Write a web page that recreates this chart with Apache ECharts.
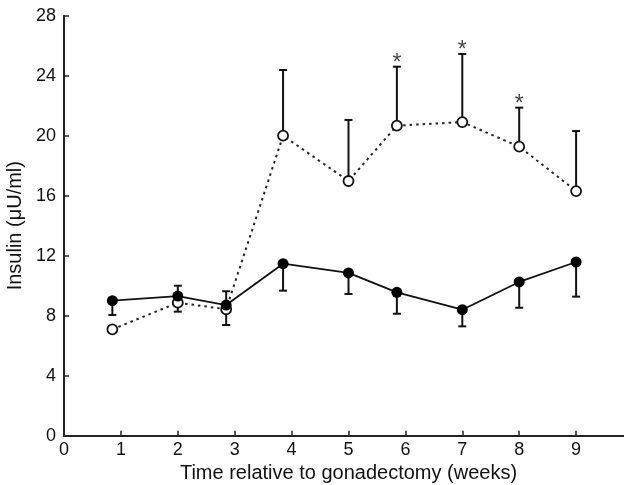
<!DOCTYPE html>
<html><head><meta charset="utf-8">
<script src="https://cdn.jsdelivr.net/npm/echarts@6/dist/echarts.min.js"></script>
<style>html,body{margin:0;padding:0;background:#fff}#c{width:624px;height:485px}</style>
</head><body><div id="c"></div>
<script>
const weeks = [0.85, 2, 2.85, 3.85, 5, 5.85, 7, 8, 9];
const intact = [9.0, 9.31, 8.71, 11.47, 10.85, 9.56, 8.4, 10.25, 11.58];
const intactBarEnd = [8.05, 10.0, 7.38, 9.67, 9.45, 8.13, 7.29, 8.53, 9.27];
const gonadex = [7.09, 8.87, 8.43, 20.0, 16.98, 20.67, 20.91, 19.27, 16.31];
const gonadexBarEnd = [null, 8.27, 9.63, 24.38, 21.05, 24.6, 25.45, 21.87, 20.31];
const starWeeks = [5.85, 7, 8];
const starAt = [24.6, 25.45, 21.87];
const yTicks = [0, 4, 8, 12, 16, 20, 24, 28];
const xTicks = [0, 1, 2, 3, 4, 5, 6, 7, 8, 9];

const FONT = 'Liberation Sans, Arial, sans-serif';
function errData(vals, ends) {
  return weeks.map((w, i) => [w, vals[i], ends[i]]).filter(d => d[2] != null);
}
function errRender(params, api) {
  const p0 = api.coord([api.value(0), api.value(1)]);
  const p1 = api.coord([api.value(0), api.value(2)]);
  const cap = 4;
  return {
    type: 'group',
    children: [
      { type: 'line', shape: { x1: p0[0], y1: p0[1], x2: p1[0], y2: p1[1] }, style: { stroke: '#111', lineWidth: 2 } },
      { type: 'line', shape: { x1: p1[0] - cap, y1: p1[1], x2: p1[0] + cap, y2: p1[1] }, style: { stroke: '#111', lineWidth: 2 } }
    ]
  };
}
const chart = echarts.init(document.getElementById('c'), null, { renderer: 'canvas' });
chart.setOption({
  animation: false,
  backgroundColor: '#fff',
  grid: { left: 64, right: -9, top: 15.7, bottom: 49.3, containLabel: false, outerBoundsMode: 'none' },
  xAxis: {
    type: 'value', min: 0, max: 10, interval: 1,
    name: 'Time relative to gonadectomy (weeks)', nameLocation: 'middle', nameGap: 28,
    nameTextStyle: { fontFamily: FONT, fontSize: 20, color: '#111' },
    axisLine: { show: true, lineStyle: { color: '#222', width: 2 } },
    axisTick: { show: true, inside: true, length: 5, lineStyle: { color: '#222', width: 1.5 } },
    axisLabel: { fontFamily: FONT, fontSize: 18, color: '#111', margin: 5,
      formatter: v => xTicks.includes(v) ? String(v) : '' },
    splitLine: { show: false }
  },
  yAxis: {
    type: 'value', min: 0, max: 28, interval: 4,
    name: 'Insulin (\u03bcU/ml)', nameLocation: 'middle', nameGap: 39,
    nameTextStyle: { fontFamily: FONT, fontSize: 20, color: '#111' },
    axisLine: { show: true, lineStyle: { color: '#222', width: 2 } },
    axisTick: { show: true, inside: true, length: 5, lineStyle: { color: '#222', width: 1.5 } },
    axisLabel: { fontFamily: FONT, fontSize: 18, color: '#111', margin: 8,
      formatter: v => yTicks.includes(v) ? String(v) : '' },
    splitLine: { show: false }
  },
  series: [
    { type: 'custom', renderItem: errRender, data: errData(gonadex, gonadexBarEnd), z: 2, silent: true },
    { type: 'custom', renderItem: errRender, data: errData(intact, intactBarEnd), z: 2, silent: true },
    {
      type: 'line', data: weeks.map((w, i) => [w, gonadex[i]]), z: 3,
      lineStyle: { color: '#222', width: 2, type: [2.5, 4] },
      symbol: 'circle', symbolSize: 10,
      itemStyle: { color: '#fff', borderColor: '#111', borderWidth: 1.8 }
    },
    {
      type: 'line', data: weeks.map((w, i) => [w, intact[i]]), z: 4,
      lineStyle: { color: '#111', width: 1.8, type: 'solid' },
      symbol: 'circle', symbolSize: 11,
      itemStyle: { color: '#000', borderColor: '#000', borderWidth: 0 }
    },
    {
      type: 'scatter', data: starWeeks.map((w, i) => [w, starAt[i]]), symbolSize: 0, z: 5,
      label: { show: true, position: 'inside', offset: [0, -3], formatter: '*', fontFamily: FONT, fontSize: 23, color: '#111' }
    }
  ]
});
</script></body></html>
